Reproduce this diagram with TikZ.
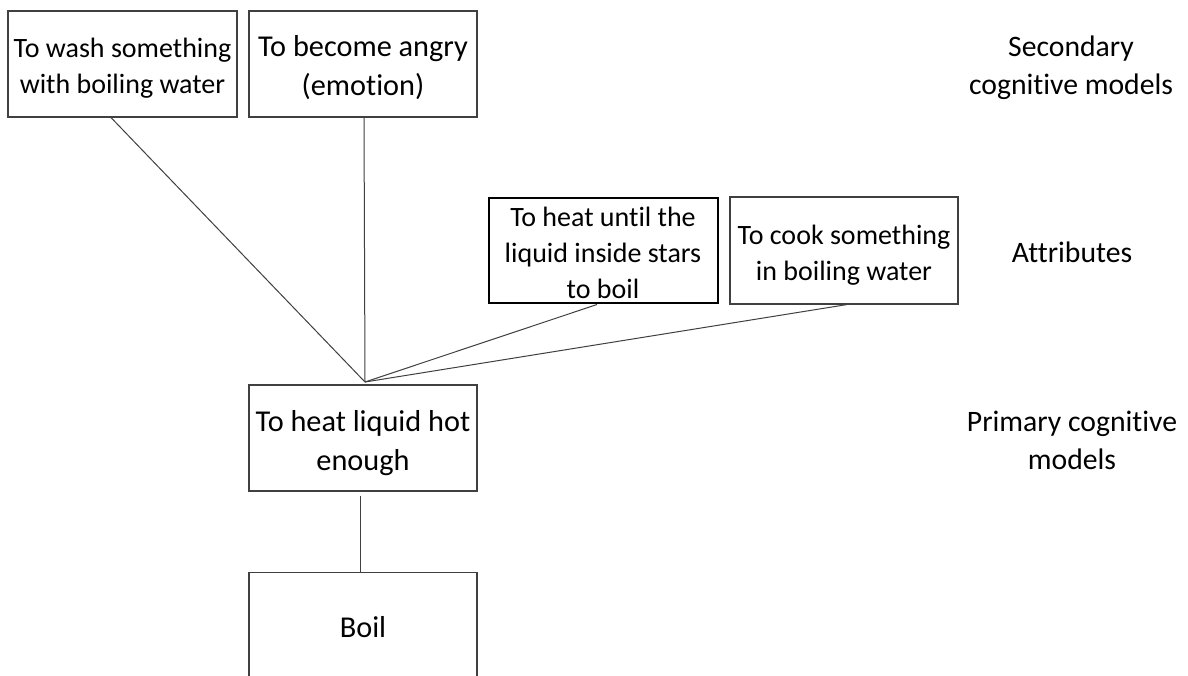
\documentclass[tikz,border=0pt]{standalone}
\usepackage{fontspec}
\setmainfont{Carlito}[Ligatures={NoCommon,NoContextual}]
\tikzset{
  box/.style={draw=black!75, line width=1.1pt, rectangle, inner sep=0pt},
  txt/.style={align=center, inner sep=0pt},
  sm/.style={font=\fontsize{28}{36}\selectfont},
  lg/.style={font=\fontsize{30.3}{39}\selectfont},
  conn/.style={draw=black!75, line width=1pt},
  lbl/.style={align=center, inner sep=0pt, font=\fontsize{29.7}{38}\selectfont}
}
\begin{document}
\begin{tikzpicture}[x=1pt,y=-1pt]
\useasboundingbox[fill=white] (0,0) rectangle (1188,675);
% boxes
\node[box,minimum width=229pt,minimum height=106pt] (wash) at (122.5,64) {};
\node[box,minimum width=228pt,minimum height=106pt] (angry) at (363,64) {};
\node[box,draw=black,line width=2pt,minimum width=229pt,minimum height=105pt] (heat) at (603,250) {};
\node[box,minimum width=228pt,minimum height=107pt] (cook) at (844,250.5) {};
\node[box,minimum width=228pt,minimum height=106pt] (prim) at (363,438) {};
\node[box,minimum width=228pt,minimum height=110pt,anchor=north] (boil) at (363,572) {};
% box texts
\node[txt,sm] (washT) at ([yshift=-4pt]wash.center) {To wash something\\with boiling water};
\node[txt,lg] (angryT) at ([yshift=-4pt]angry.center) {To become angry\\(emotion)};
\node[txt,sm] (heatT) at ([yshift=-3pt]heat.center) {To heat until the\\liquid inside stars\\to boil};
\node[txt,sm] (cookT) at ([yshift=-5pt]cook.center) {To cook something\\in boiling water};
\node[txt,lg] (primT) at ([yshift=-5pt]prim.center) {To heat liquid hot\\enough};
\node[txt,lg] (boilT) at (boil.center) {Boil};
% level labels
\node[lbl] (sec) at (1071,68) {Secondary\\cognitive models};
\node[lbl] (attr) at (1072,252) {Attributes};
\node[lbl] (pcm) at (1072,440) {Primary cognitive\\models};
% connectors
\coordinate (hub) at (365,382);
\draw[conn] ([xshift=-11.5pt]wash.south) -- (hub);
\draw[conn] ([xshift=1pt]angry.south) -- (hub);
\draw[conn] ([xshift=-6pt,yshift=-1pt]heat.south) -- (hub);
\draw[conn] ([xshift=3pt]cook.south) -- (hub);
\draw[conn] ([xshift=-3pt,yshift=-4pt]prim.south) -- ([xshift=-3pt]boil.north);
\end{tikzpicture}
\end{document}
